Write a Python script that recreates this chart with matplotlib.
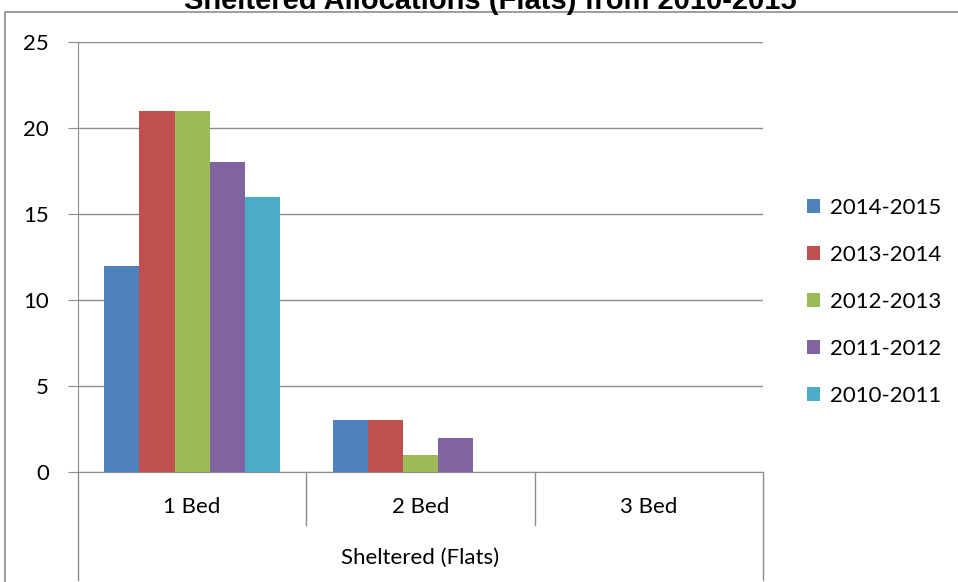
import matplotlib.pyplot as plt
from matplotlib.patches import Rectangle
from matplotlib.lines import Line2D
import numpy as np

plt.rcParams['font.family'] = ['Lato', 'DejaVu Sans']

categories = ["1 Bed", "2 Bed", "3 Bed"]
group_label = "Sheltered (Flats)"
series_names = ["2014-2015", "2013-2014", "2012-2013", "2011-2012", "2010-2011"]
v_2014_2015 = [12, 3, 0]
v_2013_2014 = [21, 3, 0]
v_2012_2013 = [21, 1, 0]
v_2011_2012 = [18, 2, 0]
v_2010_2011 = [16, 0, 0]
colors = ["#4F81BD", "#C0504D", "#9BBB59", "#8064A2", "#4BACC6"]
yticks = [0, 5, 10, 15, 20, 25]

series = [v_2014_2015, v_2013_2014, v_2012_2013, v_2011_2012, v_2010_2011]

fig = plt.figure(figsize=(9.58, 5.82), dpi=100)
W, H = 958, 582
ax = fig.add_axes([78 / W, 1 - 472 / H, (763 - 78) / W, (472 - 42) / H])

# outer chart frame
fig.patches.append(Rectangle((5 / W, -0.1), 1.2, 1 - 12 / H + 0.1, transform=fig.transFigure,
                             fill=False, edgecolor="#8c8c8c", linewidth=1.2))

n = len(series)
bw = 1 / (n + 1.5)
x = np.arange(len(categories)) + 0.5
for i, (vals, name, c) in enumerate(zip(series, series_names, colors)):
    ax.bar(x - n * bw / 2 + (i + 0.5) * bw, vals, width=bw, color=c, label=name)

ax.set_xlim(0, 3)
ax.set_ylim(0, 25)
ax.set_yticks(yticks)
ax.set_yticklabels([str(t) for t in yticks], fontsize=16)
ax.set_xticks([])
ax.grid(axis="y", color="#8c8c8c", linewidth=1)
ax.set_axisbelow(True)
for s in ["top", "right"]:
    ax.spines[s].set_visible(False)
ax.spines["left"].set_color("#8c8c8c")
ax.spines["bottom"].set_color("#8c8c8c")
ax.tick_params(axis="y", length=7, color="#8c8c8c", pad=14)

# category separators and labels below the axis
to_px = lambda px: -(px - 472) / (472 - 42) * 25
for xv in [1, 2]:
    ax.add_line(Line2D([xv, xv], [0, to_px(525)], color="#8c8c8c", lw=1, clip_on=False))
for xv in [0, 3]:
    ax.add_line(Line2D([xv, xv], [0, to_px(580)], color="#8c8c8c", lw=1, clip_on=False))
for xi, cat in zip(x, categories):
    ax.text(xi, to_px(507), cat, ha="center", va="center", fontsize=16)
ax.text(1.5, to_px(558), group_label, ha="center", va="center", fontsize=16)

fig.text(490 / W, 1 - 9 / H, "Sheltered Allocations (Flats) from 2010-2015",
         ha="center", va="baseline", fontsize=21, fontweight="bold", family="Liberation Sans")

fig.legend(loc="center left", bbox_to_anchor=(787 / W, 1 - 302 / H), frameon=False,
           fontsize=16, handlelength=0.6, handleheight=0.6, labelspacing=1.22, handletextpad=0.45)

fig.savefig("out.png", dpi=100)
